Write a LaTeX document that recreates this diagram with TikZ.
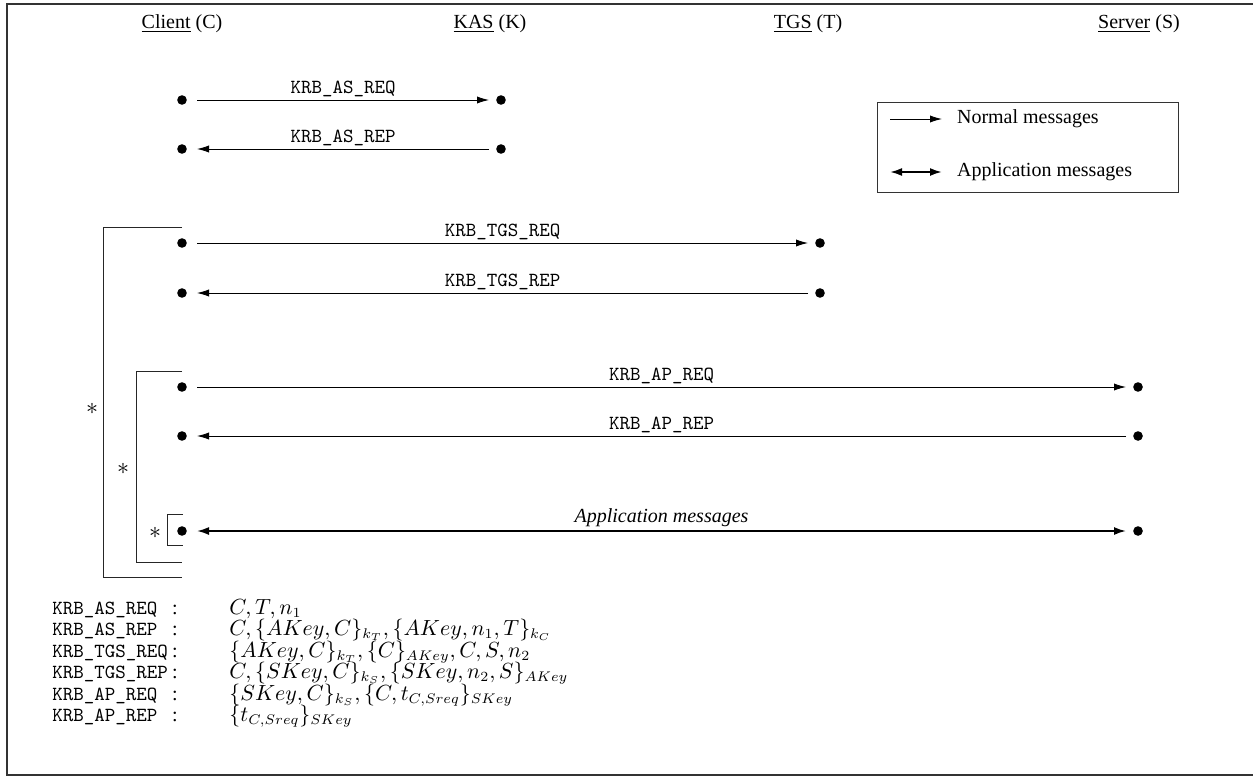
\documentclass[tikz,border=0pt]{standalone}
\usepackage{fontspec}
\setmainfont{Liberation Serif}
\usetikzlibrary{arrows.meta, positioning}

\begin{document}
\begin{tikzpicture}[
  x=0.5pt, y=-0.5pt,
  dot/.style={circle, fill=black, inner sep=0pt,
              minimum size=4.8pt, outer sep=3.6pt},
  cdot/.style={dot, outer sep=5.1pt},
  msg/.style={-{Latex[length=6pt,width=3.6pt]}, line width=0.45pt},
  appmsg/.style={{Latex[length=6pt,width=4pt]}-{Latex[length=6pt,width=4pt]},
                 line width=0.9pt},
  lbl/.style={above, font=\ttfamily, inner sep=1.5pt},
  head/.style={font=\normalsize},
  brk/.style={line width=0.45pt, color=black!85},
  rep/.style={font=\large},
  rowlab/.style={anchor=base west, font=\ttfamily, inner sep=0pt},
  rowcol/.style={anchor=base, inner sep=0pt},
  roweq/.style={anchor=base west, inner sep=0pt,
                font=\fontsize{10.6}{12}\selectfont}
]
  \useasboundingbox (0,0) rectangle (1253,776);
  % frame
  \draw[line width=0.7pt, black!80] (1270,4) -- (7,4) -- (7,775) -- (1270,775);

  % principals
  \node[head] (client) at (182,24) {\underline{Client} (C)};
  \node[head] (kas)    at (490,24) {\underline{KAS} (K)};
  \node[head] (tgs)    at (808,24) {\underline{TGS} (T)};
  \node[head] (server) at (1139,24) {\underline{Server} (S)};

  % end points
  \node[cdot] (c1) at (182,100) {};
  \node[dot]  (k1) at (501,100) {};
  \node[cdot] (c2) at (182,149) {};
  \node[dot]  (k2) at (501,149) {};
  \node[cdot] (c3) at (182,243) {};
  \node[dot]  (t3) at (820,243) {};
  \node[cdot] (c4) at (182,293) {};
  \node[dot]  (t4) at (820,293) {};
  \node[cdot] (c5) at (182,387) {};
  \node[dot]  (s5) at (1138,387) {};
  \node[cdot] (c6) at (182,436) {};
  \node[dot]  (s6) at (1138,436) {};
  \node[cdot] (c7) at (182,531) {};
  \node[dot]  (s7) at (1138,531) {};

  % messages
  \draw[msg] (c1) -- node[lbl]{KRB\_AS\_REQ} (k1);
  \draw[msg] (k2) -- node[lbl]{KRB\_AS\_REP} (c2);
  \draw[msg] (c3) -- node[lbl]{KRB\_TGS\_REQ} (t3);
  \draw[msg] (t4) -- node[lbl]{KRB\_TGS\_REP} (c4);
  \draw[msg] (c5) -- node[lbl]{KRB\_AP\_REQ} (s5);
  \draw[msg] (s6) -- node[lbl]{KRB\_AP\_REP} (c6);
  \draw[appmsg] (c7) --
    node[lbl, font=\itshape]{Application messages} (s7);

  % repetition brackets
  \draw[brk] (182,227) -| (103,577) -- (182,577);
  \draw[brk] (182,371) -| (136,562) -- (182,562);
  \draw[brk] (183,514) -| (167,545) -- (183,545);
  \node[rep] (rep1) at (92,409) {$*$};
  \node[rep] (rep2) at (123,469) {$*$};
  \node[rep] (rep3) at (155,533) {$*$};

  % legend
  \draw[line width=0.45pt, black!80] (877,102) rectangle (1178,192);
  \coordinate (lg1a) at (890,119);
  \coordinate (lg1b) at (942,119);
  \coordinate (lg2a) at (890,172);
  \coordinate (lg2b) at (942,172);
  \draw[msg] (lg1a) -- (lg1b);
  \draw[appmsg, line width=1pt] (lg2a) -- (lg2b);
  \node[anchor=west, right=4pt of lg1b] (lgtext1) {Normal messages};
  \node[anchor=west, right=4pt of lg2b] (lgtext2) {Application messages};

  % message contents
  \node[rowlab] (l1) at (52,614) {KRB\_AS\_REQ};
  \node[rowcol] (k1c) at (175,614) {:};
  \node[roweq]  (e1) at (229,614) {$C, T, n_1$};
  \node[rowlab] (l2) at (52,635) {KRB\_AS\_REP};
  \node[rowcol] (k2c) at (175,635) {:};
  \node[roweq]  (e2) at (229,635)
    {$C, \{AKey, C\}_{k_T}, \{AKey, n_1, T\}_{k_C}$};
  \node[rowlab] (l3) at (52,657) {KRB\_TGS\_REQ};
  \node[rowcol] (k3c) at (175,657) {:};
  \node[roweq]  (e3) at (229,657)
    {$\{AKey, C\}_{k_T}, \{C\}_{AKey}, C, S, n_2$};
  \node[rowlab] (l4) at (52,678) {KRB\_TGS\_REP};
  \node[rowcol] (k4c) at (175,678) {:};
  \node[roweq]  (e4) at (229,678)
    {$C, \{SKey, C\}_{k_S}, \{SKey, n_2, S\}_{AKey}$};
  \node[rowlab] (l5) at (52,700) {KRB\_AP\_REQ};
  \node[rowcol] (k5c) at (175,700) {:};
  \node[roweq]  (e5) at (229,700)
    {$\{SKey, C\}_{k_S}, \{C, t_{C,Sreq}\}_{SKey}$};
  \node[rowlab] (l6) at (52,721) {KRB\_AP\_REP};
  \node[rowcol] (k6c) at (175,721) {:};
  \node[roweq]  (e6) at (229,721) {$\{t_{C,Sreq}\}_{SKey}$};
\end{tikzpicture}
\end{document}
